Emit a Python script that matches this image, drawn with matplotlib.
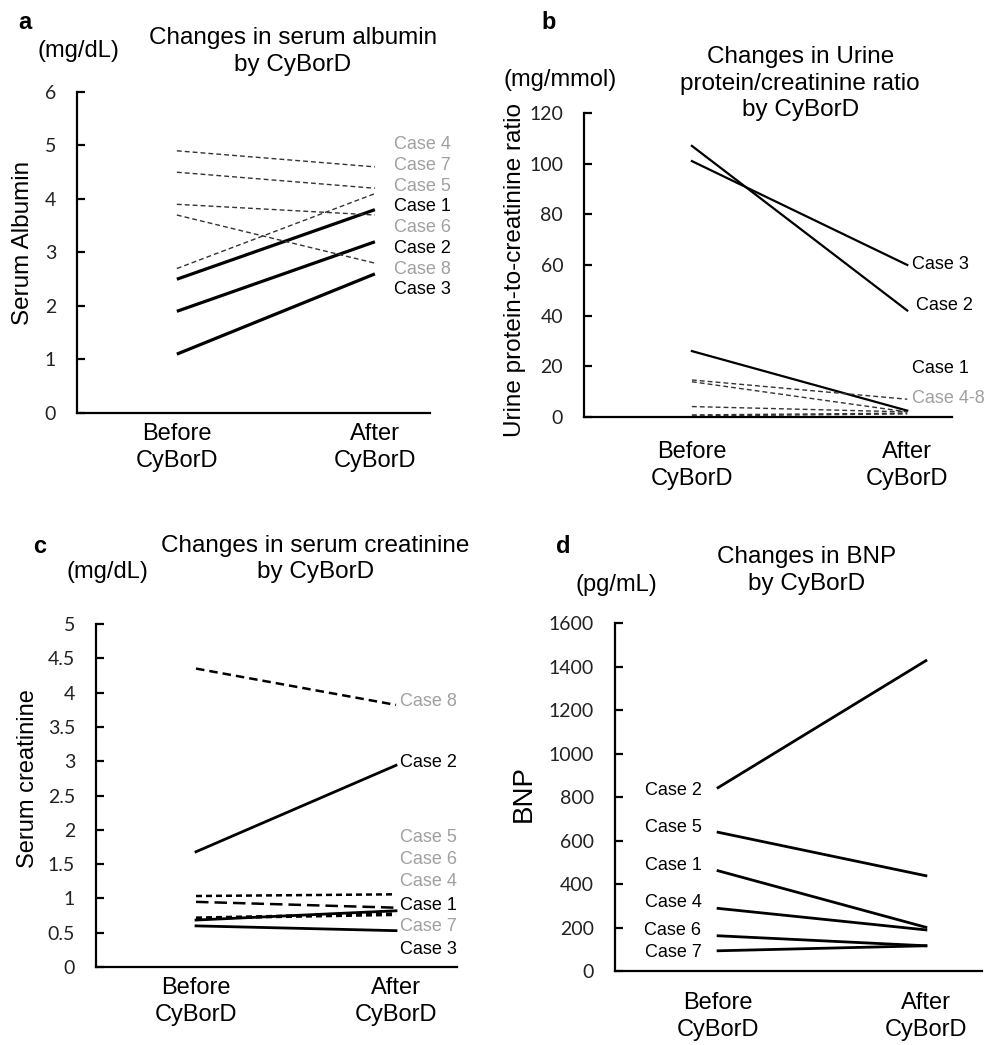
"""
Four panels: lab values before and after CyBorD, one line per case.
"""

import matplotlib
matplotlib.use("Agg")
import matplotlib.pyplot as plt

plt.rcParams["font.family"] = ["Liberation Sans", "DejaVu Sans"]

GREY = "#a0a0a0"
XTICKS = ["Before\nCyBorD", "After\nCyBorD"]

# a: serum albumin (mg/dL), before / after
alb_cases = ["Case 4", "Case 7", "Case 5", "Case 1", "Case 6", "Case 2", "Case 8", "Case 3"]
alb_before = [4.9, 4.5, 2.7, 2.5, 3.9, 1.9, 3.7, 1.1]
alb_after = [4.6, 4.2, 4.1, 3.8, 3.7, 3.2, 2.8, 2.6]
alb_solid = [False, False, False, True, False, True, False, True]
alb_label_y = [5.01, 4.63, 4.24, 3.85, 3.46, 3.08, 2.69, 2.30]

# b: urine protein/creatinine ratio (mg/mmol)
upcr_before = [26, 107, 101, 14.6, 13.9, 4.1, 0.8, 0.4]
upcr_after = [2.5, 42, 60, 7.0, 2.0, 2.0, 1.5, 1.2]
upcr_solid = [True, True, True, False, False, False, False, False]
upcr_labels = ["Case 3", "Case 2", "Case 1", "Case 4-8"]
upcr_label_y = [60, 44, 19.2, 7.2]
upcr_label_col = ["black", "black", "black", GREY]

# c: serum creatinine (mg/dL)
cre_cases = ["Case 8", "Case 2", "Case 5", "Case 6", "Case 4", "Case 1", "Case 7", "Case 3"]
cre_before = [4.35, 1.68, 1.035, 0.95, 0.71, 0.685, 0.72, 0.60]
cre_after = [3.82, 2.94, 1.06, 0.865, 0.76, 0.82, 0.78, 0.53]
cre_style = ["dash8", "solid", "dot", "long", "dot", "solid", "dot", "solid"]
cre_label_y = [3.87, 2.98, 1.89, 1.57, 1.24, 0.90, 0.59, 0.25]
cre_label_col = [GREY, "black", GREY, GREY, GREY, "black", GREY, "black"]

# d: BNP (pg/mL)
bnp_cases = ["Case 2", "Case 5", "Case 1", "Case 4", "Case 6", "Case 7"]
bnp_before = [843, 638, 461, 288, 162, 93]
bnp_after = [1427, 438, 201, 189, 116, 116]
bnp_label_y = [828, 662, 487, 317, 184, 83]


def style_axes(ax, ylim, yticks, xlim, xpad, yfmt=None):
    ax.set_xlim(*xlim)
    ax.set_ylim(*ylim)
    for s in ("top", "right"):
        ax.spines[s].set_visible(False)
    for s in ("left", "bottom"):
        ax.spines[s].set_linewidth(1.6)
    ax.set_yticks(yticks)
    if yfmt:
        ax.set_yticklabels([yfmt(v) for v in yticks])
    for lab in ax.get_yticklabels():
        lab.set_fontfamily("Lato")
        lab.set_fontsize(14)
        lab.set_color("#222222")
    ax.tick_params(axis="y", direction="in", length=5.5, width=1.6, pad=15)
    ax.set_xticks([0, 1])
    ax.set_xticklabels(XTICKS, fontsize=17, linespacing=1.3)
    ax.tick_params(axis="x", length=0, pad=xpad)


def main():
    fig = plt.figure(figsize=(9.99, 10.45), dpi=100)

    # ---- a
    ax = fig.add_axes([0.0771, 0.6048, 0.3533, 0.3072])
    for b, a, solid in zip(alb_before, alb_after, alb_solid):
        if solid:
            ax.plot([0, 1], [b, a], color="black", lw=2.3, solid_capstyle="butt")
        else:
            ax.plot([0, 1], [b, a], color="#333333", lw=1.0, dashes=(3.5, 2.2))
    for name, ly, solid in zip(alb_cases, alb_label_y, alb_solid):
        ax.annotate(name, xy=(1, ly), xytext=(13.5, 0), textcoords="offset points",
                    va="center", fontsize=13, color="black" if solid else GREY)
    style_axes(ax, (0, 6), range(7), (-0.504, 1.278), 7)

    # ---- b
    ax = fig.add_axes([0.5846, 0.6010, 0.3684, 0.2909])
    for b, a, solid in zip(upcr_before, upcr_after, upcr_solid):
        if solid:
            ax.plot([0, 1], [b, a], color="black", lw=1.6)
        else:
            ax.plot([0, 1], [b, a], color="#333333", lw=1.0, dashes=(3.5, 2.2))
    for name, ly, col in zip(upcr_labels, upcr_label_y, upcr_label_col):
        dx = 6.5 if name == "Case 2" else 3.5
        ax.annotate(name, xy=(1, ly), xytext=(dx, 0), textcoords="offset points",
                    va="center", fontsize=13, color=col)
    style_axes(ax, (0, 120), range(0, 121, 20), (-0.501, 1.208), 17)

    # ---- c
    ax = fig.add_axes([0.0961, 0.0746, 0.3614, 0.3283])
    dash_map = {"dash8": (3.4, 2.0), "dot": (2.4, 1.6), "long": (5.0, 2.4)}
    for b, a, st in zip(cre_before, cre_after, cre_style):
        if st == "solid":
            ax.plot([0, 1], [b, a], color="black", lw=2.0)
        else:
            ax.plot([0, 1], [b, a], color="black", lw=1.8, dashes=dash_map[st])
    for name, ly, col in zip(cre_cases, cre_label_y, cre_label_col):
        ax.annotate(name, xy=(1, ly), xytext=(3, 0), textcoords="offset points",
                    va="center", fontsize=13, color=col)
    style_axes(ax, (0, 5), [i * 0.5 for i in range(11)], (-0.5, 1.305), 7,
               yfmt=lambda v: f"{v:g}")

    # ---- d
    ax = fig.add_axes([0.6156, 0.0708, 0.3674, 0.3330])
    for b, a in zip(bnp_before, bnp_after):
        ax.plot([0, 1], [b, a], color="black", lw=2.0)
    for name, ly in zip(bnp_cases, bnp_label_y):
        ax.annotate(name, xy=(0, ly), xytext=(-12, 0), textcoords="offset points",
                    va="center", ha="right", fontsize=13)
    style_axes(ax, (0, 1600), range(0, 1601, 200), (-0.496, 1.27), 15)

    # panel letters, units, titles, y labels
    for x, y, s in [(0.025, 0.978, "a"), (0.549, 0.978, "b"),
                    (0.040, 0.477, "c"), (0.564, 0.477, "d")]:
        fig.text(x, y, s, fontsize=17, fontweight="bold", ha="center", va="center")
    for x, y, s in [(0.079, 0.951, "(mg/dL)"), (0.561, 0.923, "(mg/mmol)"),
                    (0.108, 0.453, "(mg/dL)"), (0.617, 0.440, "(pg/mL)")]:
        fig.text(x, y, s, fontsize=17, ha="center", va="center")
    titles = [(0.293, 0.951, "Changes in serum albumin\nby CyBorD"),
              (0.801, 0.920, "Changes in Urine\nprotein/creatinine ratio\nby CyBorD"),
              (0.316, 0.465, "Changes in serum creatinine\nby CyBorD"),
              (0.807, 0.454, "Changes in BNP\nby CyBorD")]
    for x, y, s in titles:
        fig.text(x, y, s, fontsize=17.5, ha="center", va="center", linespacing=1.27)
    ylabels = [(0.023, 1 - 243 / 1045, "Serum Albumin", 17.5),
               (0.516, 1 - 270 / 1045, "Urine protein-to-creatinine ratio", 17.5),
               (0.028, 1 - 779 / 1045, "Serum creatinine", 17),
               (0.524, 1 - 793 / 1045, "BNP", 20)]
    for x, y, s, fs in ylabels:
        fig.text(x, y, s, fontsize=fs, rotation=90, ha="center", va="center")

    fig.savefig("out.png", dpi=100)


if __name__ == "__main__":
    main()
